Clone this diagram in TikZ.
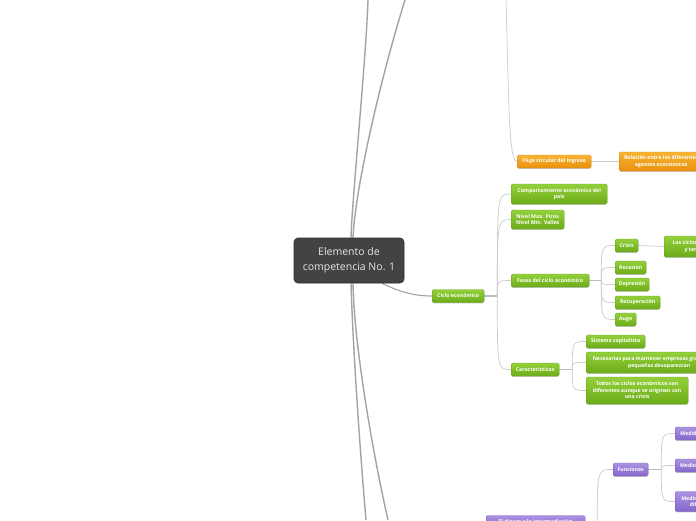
\documentclass[tikz,border=0pt]{standalone}
\usepackage{fontspec}
\setmainfont{Open Sans}
\usetikzlibrary{shadows,backgrounds}
\definecolor{gtop}{HTML}{93D03C}
\definecolor{gbot}{HTML}{6CAC18}
\definecolor{gbor}{HTML}{69A51C}
\definecolor{otop}{HTML}{F8B534}
\definecolor{obot}{HTML}{E8900C}
\definecolor{obor}{HTML}{D98A12}
\definecolor{ptop}{HTML}{AB92E2}
\definecolor{pbot}{HTML}{8566CC}
\definecolor{pbor}{HTML}{7B5DC2}
\definecolor{cfill}{HTML}{434343}
\definecolor{cbor}{HTML}{2C2C2C}
\definecolor{ctext}{HTML}{E6E6E6}
\definecolor{lconn}{HTML}{CBCBCB}
\definecolor{lstub}{HTML}{BDBDBD}
\definecolor{lmain}{HTML}{A3A3A3}
\tikzset{
  boxbase/.style={anchor=west, rounded corners=1.5pt, text=white, align=center,
    inner sep=1.5pt, minimum height=13pt,
    font=\fontsize{5.2}{6.5}\selectfont\bfseries,
    drop shadow={shadow xshift=0pt, shadow yshift=-0.8pt, opacity=0.22, fill=black}},
  gnode/.style={boxbase, top color=gtop, bottom color=gbot, draw=gbor, line width=0.3pt},
  onode/.style={boxbase, top color=otop, bottom color=obot, draw=obor, line width=0.3pt},
  pnode/.style={boxbase, top color=ptop, bottom color=pbot, draw=pbor, line width=0.3pt},
  centralbox/.style={rounded corners=4pt, fill=cfill, draw=cbor, line width=0.6pt,
    text=ctext, align=center, minimum width=110pt, minimum height=45pt,
    font=\fontsize{10.5}{15}\selectfont, inner sep=2pt},
  conn/.style={draw=lconn, line width=0.7pt},
  stub/.style={draw=lstub, line width=1.4pt},
  mainconn/.style={draw=lmain, line width=1.4pt},
}
\begin{document}
\begin{tikzpicture}[x=1pt,y=-1pt]
\useasboundingbox (0,0) rectangle (696,520);

% central node
\node[centralbox] (central) at (349,260.5) {Elemento de\\competencia No. 1};

% orange branch
\node[onode, minimum width=74pt] (flujo) at (517,161.5) {Flujo circular del ingreso};
\node[onode, minimum width=84pt, minimum height=19pt] (relacion) at (619,161.5) {Relación entre los diferentes\\agentes económicos};

% green branch
\node[gnode, minimum width=52pt] (ciclo) at (432,296) {Ciclo económico};
\node[gnode, minimum width=96pt, minimum height=20pt] (comp) at (511,194) {Comportamiento económico del\\país};
\node[gnode, minimum width=53pt, minimum height=19pt] (nivel) at (511,219.5) {Nivel Max. Picos\\Nivel Min. Valles};
\node[gnode, minimum width=78pt] (fases) at (511,280.5) {Fases del ciclo económico};
\node[gnode, minimum width=48pt] (carac) at (511,369.5) {Características};

\node[gnode, minimum width=23pt] (crisis) at (615,245.5) {Crisis};
\node[gnode, minimum width=92pt, minimum height=21pt] (losciclos) at (664,246.5) {Los ciclos económicos inician\\y terminan en crisis};
\node[gnode, minimum width=31pt] (recesion) at (615,267.5) {Recesión};
\node[gnode, minimum width=34pt] (depresion) at (615,284.5) {Depresión};
\node[gnode, minimum width=45pt] (recup) at (615,302.5) {Recuperación};
\node[gnode, minimum width=21pt] (auge) at (615,319.5) {Auge};

\node[gnode, minimum width=59pt] (sistema) at (586,341.5) {Sistema capitalista};
\node[gnode, minimum width=146pt, minimum height=21pt] (necesarias) at (586,362.5) {Necesarias para mantener empresas grandes y que\\pequeñas desaparezcan};
\node[gnode, minimum width=102pt, minimum height=27pt] (todos) at (586,390.5) {Todos los ciclos económicos son\\diferentes aunque se originen con\\una crisis};

% purple branch
\node[pnode, minimum width=99pt] (dinero) at (486,522) {El dinero y la intermediación};
\node[pnode, minimum width=35pt] (funciones) at (613,469.5) {Funciones};
\node[pnode, minimum width=52pt] (medida) at (675,433.5) {Medida de valor};
\node[pnode, minimum width=54pt] (cambio) at (675,465.5) {Medio de cambio};
\node[pnode, minimum width=50pt, minimum height=20pt] (pago) at (675,501.5) {Medio de pago\\diferido};

% free ends off the picture
\coordinate (topA) at (368,0);
\coordinate (topB) at (405,0);
\coordinate (botC) at (366,520);
\coordinate (botD) at (388,520);
\coordinate (topF) at (506,0);

% forks
\coordinate (fCiclo) at ([xshift=13pt]ciclo.east);
\coordinate (fFases) at ([xshift=12pt]fases.east);
\coordinate (fCarac) at ([xshift=13pt]carac.east);
\coordinate (fFunc) at ([xshift=13pt]funciones.east);
\coordinate (fDin) at ([xshift=12pt]dinero.east);

\begin{pgfonlayer}{background}
\fill[white] (0,0) rectangle (696,520);
% main connectors from central node
\draw[mainconn] ([xshift=2pt]central.north) .. controls (352,200) and (366,60) .. (topA);
\draw[mainconn] ([xshift=4pt]central.north) .. controls (355,190) and (380,80) .. (topB);
\draw[mainconn] ([xshift=2pt]central.south) .. controls (353,350) and (360,450) .. (botC);
\draw[mainconn] ([xshift=4pt]central.south) .. controls (354,340) and (370,440) .. (botD);
\draw[mainconn, line width=1.1pt] ([xshift=33pt]central.south) .. controls (398,291) and (412,296) .. (ciclo.west);

% orange
\draw[conn] (topF) .. controls (509,110) and (509,161.5) .. (flujo.west);
\draw[conn] (flujo.east) -- (relacion.west);

% green
\draw[stub] (ciclo.east) -- (fCiclo);
\foreach \c in {comp,nivel,fases,carac}
  \draw[conn] (fCiclo) .. controls (fCiclo |- \c.west) .. (\c.west);
\draw[stub] (fases.east) -- (fFases);
\foreach \c in {crisis,recesion,depresion,recup,auge}
  \draw[conn] (fFases) .. controls (fFases |- \c.west) .. (\c.west);
\draw[conn] (crisis.east) -- (losciclos.west);
\draw[stub] (carac.east) -- (fCarac);
\foreach \c in {sistema,necesarias,todos}
  \draw[conn] (fCarac) .. controls (fCarac |- \c.west) .. (\c.west);

% purple
\draw[stub] (dinero.east) -- (fDin);
\draw[conn] (fDin) .. controls (fDin |- funciones.west) .. (funciones.west);
\draw[stub] (funciones.east) -- (fFunc);
\foreach \c in {medida,cambio,pago}
  \draw[conn] (fFunc) .. controls (fFunc |- \c.west) .. (\c.west);
\end{pgfonlayer}
\end{tikzpicture}
\end{document}
